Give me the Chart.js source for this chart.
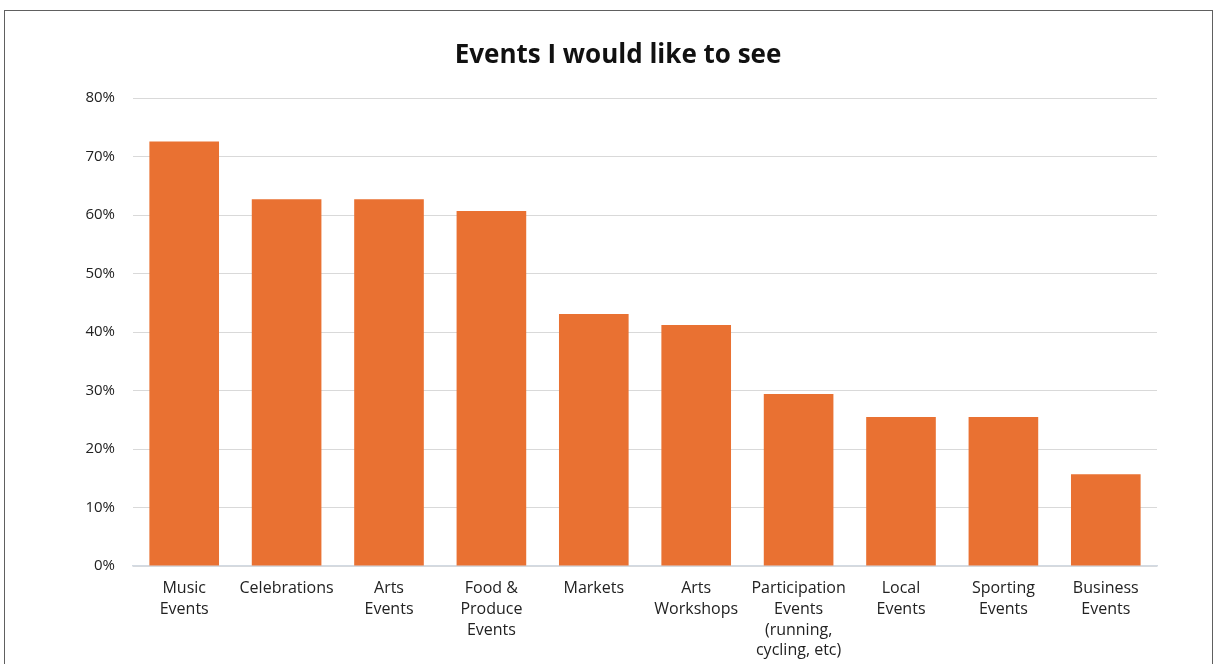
<!DOCTYPE html>
<html>
<head>
<meta charset="utf-8">
<script src="https://cdn.jsdelivr.net/npm/chart.js@4"></script>
<style>
  html, body { margin: 0; padding: 0; background: #fff; }
  #wrap { position: relative; width: 1214px; height: 664px; }
  #frame {
    position: absolute; left: 4px; top: 10px; right: 1px; bottom: -5px;
    border: 1.5px solid #606060; border-bottom: none;
  }
  canvas { position: absolute; left: 0; top: 0; }
</style>
</head>
<body>
<div id="wrap">
  <div id="frame"></div>
  <canvas id="chart" width="1214" height="664"></canvas>
</div>
<script>
const categories = [
  ['Music', 'Events'],
  'Celebrations',
  ['Arts', 'Events'],
  ['Food &', 'Produce', 'Events'],
  'Markets',
  ['Arts', 'Workshops'],
  ['Participation', 'Events', '(running,', 'cycling, etc)'],
  ['Local', 'Events'],
  ['Sporting', 'Events'],
  ['Business', 'Events']
];
const shares = [72.6, 62.7, 62.7, 60.7, 43.1, 41.2, 29.4, 25.5, 25.5, 15.7];
const yTicks = [0, 10, 20, 30, 40, 50, 60, 70, 80];

const font = "'Open Sans', 'Noto Sans', sans-serif";

// Draw chart
const ctx = document.getElementById('chart').getContext('2d');
new Chart(ctx, {
  type: 'bar',
  data: {
    labels: categories,
    datasets: [{
      data: shares,
      backgroundColor: '#E97132',
      borderWidth: 0,
      categoryPercentage: 1,
      barPercentage: 0.68
    }]
  },
  options: {
    responsive: false,
    animation: false,
    layout: { padding: { left: 22, right: 0, top: 0, bottom: 0 } },
    plugins: {
      legend: { display: false },
      tooltip: { enabled: false },
      title: {
        display: true,
        text: 'Events I would like to see',
        color: '#111',
        font: { family: font, size: 26, weight: 'bold' },
        padding: { top: 40, bottom: 27 }
      }
    },
    scales: {
      x: {
        grid: { display: false },
        border: { color: '#d3dae2', width: 1.5 },
        ticks: {
          color: '#222',
          font: { family: font, size: 16, lineHeight: 1.3 },
          maxRotation: 0,
          autoSkip: false,
          padding: 4
        },
        afterFit: (scale) => { scale.height = 98; }
      },
      y: {
        min: 0,
        max: 80,
        afterBuildTicks: (scale) => { scale.ticks = yTicks.map(v => ({ value: v })); },
        grid: { color: '#d9d9d9', lineWidth: 1, drawTicks: false },
        border: { display: false },
        ticks: {
          color: '#222',
          font: { family: font, size: 15 },
          padding: 18,
          callback: (v) => v + '%'
        },
        afterFit: (scale) => { scale.width = 111; }
      },
      // empty right gutter so the title centres on the whole frame
      gutter: {
        type: 'linear',
        position: 'right',
        display: true,
        grid: { display: false },
        border: { display: false },
        ticks: { display: false },
        afterFit: (scale) => { scale.width = 57; }
      }
    }
  }
});
</script>
</body>
</html>
